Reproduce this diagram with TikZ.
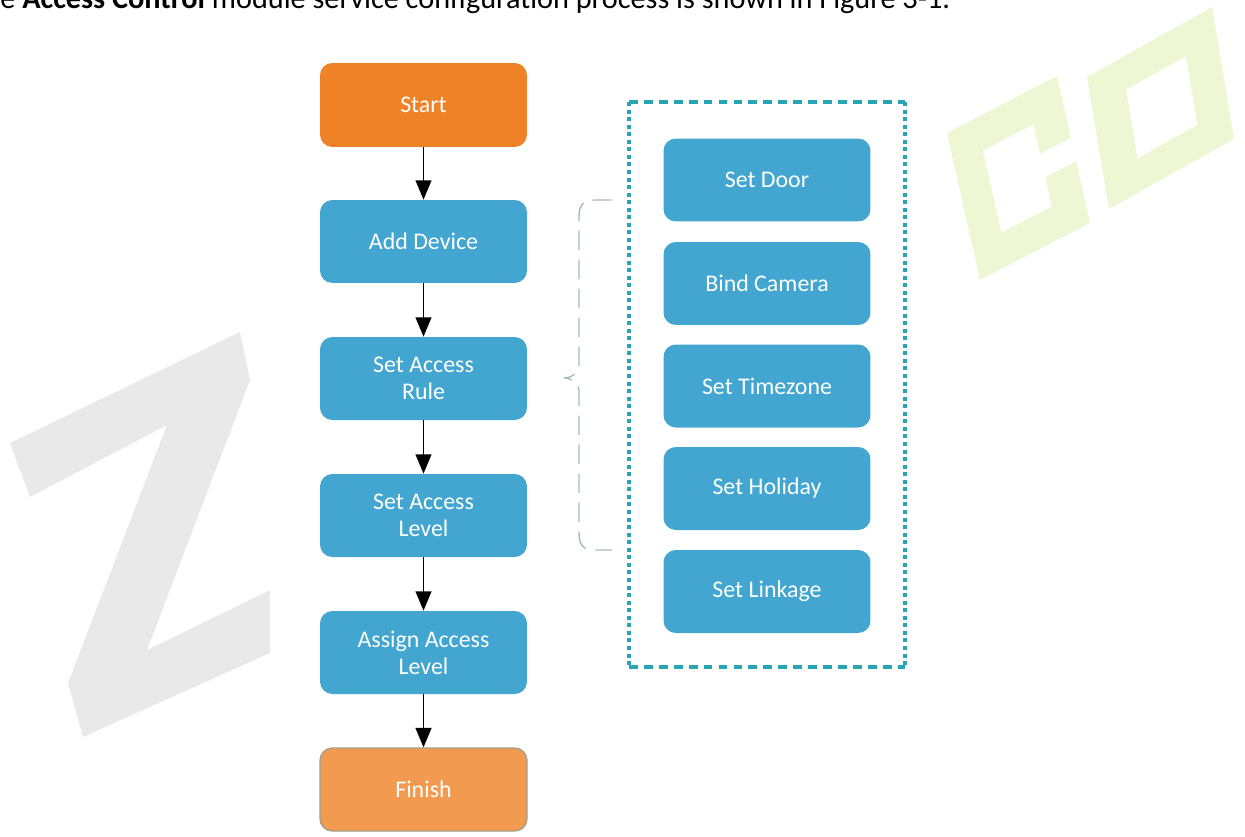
\documentclass[tikz,border=0pt]{standalone}
\usepackage{fontspec}
\setmainfont{Carlito}
\usepackage{xcolor}
\usepackage{graphicx}
\usetikzlibrary{arrows.meta}

\definecolor{stepblue}{RGB}{66,166,209}
\definecolor{startorange}{RGB}{239,130,38}
\definecolor{finishorange}{RGB}{242,155,80}
\definecolor{finishline}{RGB}{165,160,135}
\definecolor{frameteal}{RGB}{40,165,180}
\definecolor{bracegray}{RGB}{165,185,192}
\definecolor{markgray}{RGB}{233,233,233}
\definecolor{markgreen}{RGB}{237,247,211}

\tikzset{
  flowbox/.style={rectangle, rounded corners=7pt, minimum width=4.14cm,
    minimum height=1.66cm, text=white, align=center, inner sep=0pt,
    font=\fontsize{13.6}{15.5}\selectfont},
  stepbox/.style={flowbox, fill=stepblue},
  startbox/.style={flowbox, fill=startorange},
  finishbox/.style={flowbox, fill=finishorange, draw=finishline, line width=0.8pt},
  flowarrow/.style={-{Triangle[width=9pt,length=11pt]}, line width=0.9pt, black},
  framedash/.style={frameteal, line width=1.8pt},
  bracestroke/.style={bracegray, line width=0.8pt, dash pattern=on 11pt off 5.5pt},
}

\begin{document}
\begin{tikzpicture}[x=0.02cm, y=-0.02cm]
    \useasboundingbox (0,0) rectangle (1245,836);
    \clip (0,0) rectangle (1245,836);

    % watermark
    \fill[markgray] (10,443) -- (240,332) -- (250,380) -- (147,650) -- (270,590)
        -- (270,653) -- (83,737) -- (68,683) -- (167,425) -- (30,497) -- cycle;
    \begin{scope}[shift={(947,133)}, x={(2.2cm,1.14cm)}, y={(0.66cm,-2.94cm)}]
        \fill[markgreen] (0,0) -- (1,0) -- (1,0.42) -- (0.72,0.42) -- (0.72,0.22)
            -- (0.26,0.22) -- (0.26,0.78) -- (0.72,0.78) -- (0.72,0.58) -- (1,0.58)
            -- (1,1) -- (0,1) -- cycle;
    \end{scope}
    \begin{scope}[shift={(1087,77)}, x={(2.5cm,1.4cm)}, y={(0.44cm,-2.64cm)}]
        \fill[markgreen, even odd rule] (0,0) -- (1,0) -- (1,1) -- (0,1) -- cycle
            (0.27,0.24) -- (0.75,0.24) -- (0.75,0.76) -- (0.27,0.76) -- cycle;
    \end{scope}

    % intro line
    \node[anchor=base west, inner sep=0pt] (intro) at (0,8)
        {\resizebox{19cm}{!}{e \textbf{Access Control} module service configuration process is shown in Figure 3-1.}};

    % main flow
    \node[startbox, minimum height=1.68cm] (start) at (423.5,105) {Start};
    \node[stepbox] (device) at (423.5,241.5) {Add Device};
    \node[stepbox] (rule) at (423.5,378.5) {Set Access\\Rule};
    \node[stepbox] (level) at (423.5,515.5) {Set Access\\Level};
    \node[stepbox] (assign) at (423.5,652.5) {Assign Access\\Level};
    \node[finishbox] (finish) at (423.5,789.5) {Finish};

    \draw[flowarrow] (start) -- (device);
    \draw[flowarrow] (device) -- (rule);
    \draw[flowarrow] (rule) -- (level);
    \draw[flowarrow] (level) -- (assign);
    \draw[flowarrow] (assign) -- (finish);

    % rule settings
    \node[stepbox] (door) at (767,180) {Set Door};
    \node[stepbox] (camera) at (767,283.5) {Bind Camera};
    \node[stepbox] (timezone) at (767,386) {Set Timezone};
    \node[stepbox] (holiday) at (767,488.5) {Set Holiday};
    \node[stepbox] (linkage) at (767,591.5) {Set Linkage};

    % dotted frame
    \coordinate (frame nw) at (629,102);
    \coordinate (frame ne) at (905,102);
    \coordinate (frame sw) at (629,667);
    \coordinate (frame se) at (905,667);
    \draw[framedash, dash pattern=on 5pt off 3.5pt] (frame nw) -- (frame ne);
    \draw[framedash, dash pattern=on 5pt off 3.5pt] (frame sw) -- (frame se);
    \draw[framedash, dash pattern=on 2.3pt off 2pt] (frame nw) -- (frame sw);
    \draw[framedash, dash pattern=on 2.3pt off 2pt] (frame ne) -- (frame se);

    % brace
    \coordinate (brace top) at (612,200);
    \coordinate (brace tip) at (564,378);
    \coordinate (brace bottom) at (612,550);
    \draw[bracestroke] (brace top) -- (595,200) .. controls (583,200) and (579,205) .. (579,217)
        -- (579,366) .. controls (579,373) and (571,378) .. (brace tip)
        .. controls (571,378) and (579,383) .. (579,390)
        -- (579,533) .. controls (579,545) and (583,550) .. (595,550) -- (brace bottom);

\end{tikzpicture}
\end{document}
